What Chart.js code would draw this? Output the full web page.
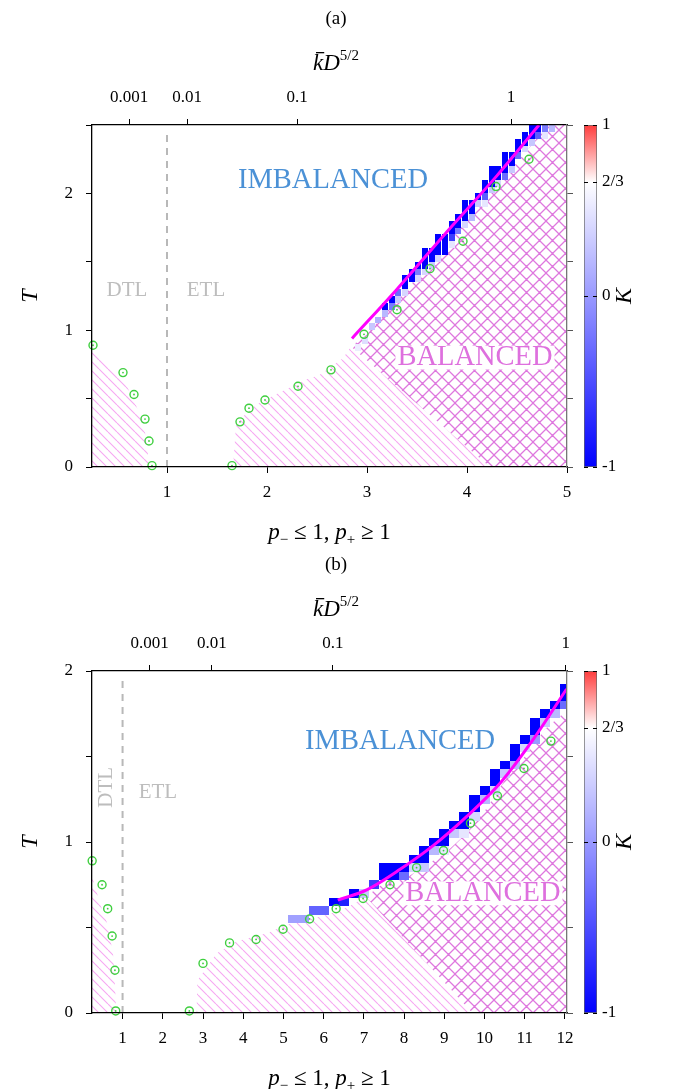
<!DOCTYPE html>
<html>
<head>
<meta charset="utf-8">
<script src="https://cdn.jsdelivr.net/npm/chart.js@4.4.1/dist/chart.umd.min.js"></script>
<style>
  body { margin: 0; background: #fff; }
  #wrap { position: relative; width: 673px; height: 1089px; }
  .box { position: absolute; }
</style>
</head>
<body>
<div id="wrap">
  <div class="box" style="left:0;top:0"><canvas id="mainA" width="673" height="545"></canvas></div>
  <div class="box" style="left:570px;top:0"><canvas id="barA" width="103" height="545"></canvas></div>
  <div class="box" style="left:0;top:545px"><canvas id="mainB" width="673" height="544"></canvas></div>
  <div class="box" style="left:570px;top:545px"><canvas id="barB" width="103" height="544"></canvas></div>
</div>
<script>
const SERIF = "'Liberation Serif','DejaVu Serif',serif";

// ---- tick data ----
const topLabels = ['0.001', '0.01', '0.1', '1'];
const aTopPos = [0.62, 1.2, 2.3, 4.44];
const bTopPos = [1.67, 3.22, 6.23, 12.02];
const aXTicks = [1, 2, 3, 4, 5];
const bXTicks = [1, 2, 3, 4, 5, 6, 7, 8, 9, 10, 11, 12];
const aYTicks = [0, 0.5, 1, 1.5, 2, 2.5];
const bYTicks = [0, 0.5, 1, 1.5, 2];

// colour bar
const cbTicks = [-1, 0, 2 / 3, 1];
const cbLabels = ['-1', '0', '2/3', '1'];
const cbStops = [-1, 2 / 3, 1];
const cbColors = [[0, 0, 255], [255, 255, 255], [255, 60, 60]];

// ---- panel (a) ----
const aPointP = [0.26, 0.56, 0.67, 0.78, 0.82, 0.85, 1.65, 1.73, 1.82, 1.98, 2.31, 2.64, 2.97, 3.3, 3.63, 3.96, 4.29, 4.62];
const aPointT = [0.89, 0.69, 0.53, 0.35, 0.19, 0.01, 0.01, 0.33, 0.43, 0.49, 0.59, 0.71, 0.97, 1.15, 1.45, 1.65, 2.05, 2.25];
const aCurveP = [2.85, 3.3, 3.8, 4.3, 4.72];
const aCurveT = [0.94, 1.3, 1.72, 2.13, 2.5];
const aDashP = [1, 1];
const aDashT = [0, 2.47];
const aHatchLP = [0.25, 0.25, 0.55, 0.66, 0.76, 0.8, 0.82];
const aHatchLT = [0, 0.85, 0.66, 0.5, 0.33, 0.17, 0];
const aHatchRP = [1.66, 1.69, 1.76, 1.89, 2.06, 2.39, 2.52, 2.76, 2.84, 4.23];
const aHatchRT = [0, 0.3, 0.37, 0.455, 0.52, 0.64, 0.67, 0.795, 0.88, 0];
const aCrossP = [2.84, 3.0, 3.3, 3.8, 4.3, 4.72, 4.82, 5, 5, 4.23];
const aCrossT = [0.88, 0.97, 1.22, 1.63, 2.05, 2.42, 2.5, 2.5, 0, 0];
const aCellP = [2.91, 2.98, 3.05, 3.11, 3.18, 3.18, 3.25, 3.25, 3.31, 3.31, 3.38, 3.38, 3.38, 3.45, 3.45, 3.51, 3.51, 3.51,
  3.58, 3.58, 3.58, 3.58, 3.65, 3.65, 3.65, 3.71, 3.71, 3.71, 3.71, 3.78, 3.78, 3.78, 3.85, 3.85, 3.85, 3.85, 3.91, 3.91, 3.91,
  3.98, 3.98, 3.98, 3.98, 4.05, 4.05, 4.05, 4.11, 4.11, 4.18, 4.18, 4.18, 4.18, 4.25, 4.25, 4.25, 4.25, 4.31, 4.31, 4.31,
  4.38, 4.38, 4.38, 4.38, 4.45, 4.45, 4.45, 4.51, 4.51, 4.51, 4.58, 4.58, 4.58, 4.65, 4.65, 4.65, 4.71, 4.71, 4.78, 4.85, 4.78];
const aCellT = [0.875, 0.925, 1.025, 1.075, 1.175, 1.125, 1.225, 1.175, 1.225, 1.275, 1.325, 1.275, 1.375, 1.375, 1.425, 1.375, 1.425, 1.475,
  1.475, 1.425, 1.525, 1.575, 1.525, 1.475, 1.575, 1.625, 1.575, 1.525, 1.675, 1.625, 1.575, 1.675, 1.725, 1.675, 1.625, 1.775, 1.775, 1.725, 1.825,
  1.825, 1.875, 1.775, 1.925, 1.875, 1.925, 1.825, 1.975, 1.925, 2.025, 1.975, 1.925, 2.075, 2.075, 2.125, 2.025, 2.175, 2.125, 2.075, 2.175,
  2.175, 2.125, 2.225, 2.275, 2.225, 2.275, 2.175, 2.325, 2.275, 2.375, 2.375, 2.325, 2.425, 2.425, 2.475, 2.375, 2.475, 2.425, 2.475, 2.475, 2.425];
const aCellK = [0.55, 0.45, 0.3, 0.15, -1, 0.2, -1, -0.2, 0.3, -0.3, -1, 0.4, -1, -1, -1, 0.4, -0.2, -1,
  -1, 0.4, -1, -1, -1, 0.3, -1, -1, -1, 0.4, -1, -1, -1, -1, -1, -0.6, 0.5, -1, -1, -0.2, -1,
  -1, -1, 0.4, -1, -1, -1, 0.2, -1, 0.3, -1, -0.4, 0.5, -1, -1, -1, 0.3, -1, -1, 0.4, -1,
  -1, -0.3, -1, -1, -1, -1, 0.3, -1, -0.3, -1, -1, 0.4, -1, -1, -1, 0.3, -1, -0.4, -0.2, 0.2, 0.5];

// ---- panel (b) ----
const bPointP = [0.244, 0.49, 0.63, 0.74, 0.81, 0.83, 2.66, 3.0, 3.66, 4.32, 4.99, 5.65, 6.31, 6.98, 7.65, 8.31, 8.98, 9.65, 10.32, 10.98, 11.65];
const bPointT = [0.89, 0.75, 0.61, 0.45, 0.25, 0.012, 0.012, 0.29, 0.41, 0.43, 0.49, 0.55, 0.61, 0.67, 0.75, 0.85, 0.95, 1.11, 1.27, 1.43, 1.59];
const bCurveP = [6.35, 7.07, 7.9, 8.73, 9.56, 10.39, 11.21, 12.04];
const bCurveT = [0.66, 0.72, 0.84, 0.98, 1.15, 1.345, 1.6, 1.895];
const bDashP = [1, 1];
const bDashT = [0, 1.97];
const bHatchLP = [0.24, 0.24, 0.44, 0.64, 0.77, 0.82, 0.84];
const bHatchLT = [0, 0.8, 0.64, 0.51, 0.33, 0.12, 0];
const bHatchRP = [2.84, 2.86, 3.34, 3.84, 4.58, 5.08, 6.1, 6.6, 7.05, 9.7];
const bHatchRT = [0, 0.19, 0.35, 0.42, 0.467, 0.516, 0.575, 0.62, 0.68, 0];
const bCrossP = [7.05, 7.5, 8.0, 8.5, 9.0, 9.5, 10.0, 10.5, 11.0, 11.5, 12.05, 12.05, 9.7];
const bCrossT = [0.68, 0.76, 0.78, 0.86, 0.93, 1.04, 1.18, 1.36, 1.5, 1.66, 1.77, 0, 0];
const bCellP = [5.25, 5.5, 5.75, 6.0, 6.25, 6.5, 6.75, 7.0, 7.25, 7.5, 7.5, 7.75, 7.75, 8.0, 8.0,
  8.25, 8.25, 8.5, 8.5, 8.5, 8.75, 8.75, 9.0, 9.0, 9.0, 9.25, 9.25, 9.5, 9.5, 9.5, 9.75, 9.75, 9.75,
  10.0, 10.0, 10.25, 10.25, 10.25, 10.5, 10.5, 10.75, 10.75, 10.75, 11.0, 11.0, 11.25, 11.25, 11.25,
  11.5, 11.5, 11.75, 11.75, 12.0, 12.0, 12.0];
const bCellT = [0.55, 0.55, 0.6, 0.6, 0.65, 0.65, 0.7, 0.7, 0.75, 0.8, 0.85, 0.8, 0.85, 0.85, 0.8,
  0.9, 0.85, 0.9, 0.95, 0.85, 1.0, 0.95, 1.0, 1.05, 0.95, 1.1, 1.05, 1.1, 1.15, 1.05, 1.2, 1.25, 1.15,
  1.3, 1.25, 1.35, 1.4, 1.3, 1.45, 1.4, 1.5, 1.55, 1.45, 1.6, 1.55, 1.65, 1.7, 1.6,
  1.75, 1.7, 1.8, 1.75, 1.85, 1.9, 1.8];
const bCellK = [0.05, 0.05, -0.35, -0.35, -1, -0.8, -1, 0.3, -0.6, -1, -1, -1, -1, -1, -0.3,
  -1, 0.4, -1, -1, 0.3, -1, 0.2, -1, -1, 0.5, -1, 0.3, -1, -1, 0.5, -1, -1, 0.4,
  -1, 0.2, -1, -1, 0.4, -1, 0.3, -1, -1, 0.2, -1, 0.4, -1, -1, 0.0,
  -1, 0.3, -1, 0.2, -1, -1, -0.3];

// ---- helpers ----
const xy = (ps, ts) => ps.map((p, i) => ({ x: p, y: ts[i] }));

function kColor(k) {
  for (let i = 1; i < cbStops.length; i++) {
    if (k <= cbStops[i] || i === cbStops.length - 1) {
      const f = Math.max(0, Math.min(1, (k - cbStops[i - 1]) / (cbStops[i] - cbStops[i - 1])));
      const c = cbColors[i - 1].map((v, j) => Math.round(v + f * (cbColors[i][j] - v)));
      return 'rgb(' + c.join(',') + ')';
    }
  }
}

function makeTile(size, color, width, cross) {
  const c = document.createElement('canvas');
  c.width = c.height = size;
  const g = c.getContext('2d');
  g.fillStyle = '#fff';
  g.fillRect(0, 0, size, size);
  g.strokeStyle = color;
  g.lineWidth = width;
  g.beginPath();
  for (const o of [-size, 0, size]) {
    g.moveTo(o, 0); g.lineTo(o + size, size);
    if (cross) { g.moveTo(o, size); g.lineTo(o + size, 0); }
  }
  g.stroke();
  if (cross) {
    g.fillStyle = color;
    g.fillRect(size / 2 - 1, size / 2 - 1, 2, 2);
    for (const [px, py] of [[0, 0], [size, 0], [0, size], [size, size]]) g.fillRect(px - 1, py - 1, 2, 2);
  }
  return c;
}
const lineTile = makeTile(9, '#f6a8f2', 1.1, false);
const crossTile = makeTile(13, '#de78de', 1.25, true);

// hatch regions and K cells, drawn under the datasets
const regionPlugin = {
  id: 'regions',
  beforeDatasetsDraw(chart, args, o) {
    const { ctx, chartArea: a, scales: { x, y } } = chart;
    ctx.save();
    ctx.beginPath();
    ctx.rect(a.left, a.top, a.width, a.height);
    ctx.clip();
    o.hatches.forEach(h => {
      ctx.beginPath();
      h.p.forEach((p, i) => {
        const X = x.getPixelForValue(p), Y = y.getPixelForValue(h.t[i]);
        if (i) ctx.lineTo(X, Y); else ctx.moveTo(X, Y);
      });
      ctx.closePath();
      ctx.fillStyle = ctx.createPattern(h.cross ? crossTile : lineTile, 'repeat');
      ctx.fill();
    });
    const c = o.cells;
    c.p.forEach((p, i) => {
      const x0 = Math.round(x.getPixelForValue(p - c.w / 2)), x1 = Math.round(x.getPixelForValue(p + c.w / 2));
      const y0 = Math.round(y.getPixelForValue(c.t[i] + c.h / 2)), y1 = Math.round(y.getPixelForValue(c.t[i] - c.h / 2));
      ctx.fillStyle = kColor(c.k[i]);
      ctx.fillRect(x0, y0, x1 - x0, y1 - y0);
    });
    ctx.restore();
  }
};

// titles, axis labels with sub/superscripts, region names
const textPlugin = {
  id: 'texts',
  afterDraw(chart, args, o) {
    const { ctx, chartArea: a, scales: { x, y } } = chart;
    const cx = (a.left + a.right) / 2;
    ctx.save();
    ctx.fillStyle = '#000';
    ctx.textBaseline = 'alphabetic';

    ctx.font = '19px ' + SERIF;
    ctx.textAlign = 'center';
    ctx.fillText(o.tag, 336, a.top - 101);

    // k-bar D^{5/2}
    const runs = [
      { t: 'k', f: 'italic 23px ' + SERIF, dy: 0, bar: true },
      { t: 'D', f: 'italic 23px ' + SERIF, dy: 0 },
      { t: '5/2', f: '15px ' + SERIF, dy: -10 }
    ];
    drawRuns(ctx, runs, 336, a.top - 55);

    // x title
    const xruns = [
      { t: 'p', f: 'italic 23px ' + SERIF, dy: 0 },
      { t: '\u2212', f: '15px ' + SERIF, dy: 5 },
      { t: ' \u2264 1, ', f: '23px ' + SERIF, dy: 0 },
      { t: 'p', f: 'italic 23px ' + SERIF, dy: 0 },
      { t: '+', f: '15px ' + SERIF, dy: 5 },
      { t: ' \u2265 1', f: '23px ' + SERIF, dy: 0 }
    ];
    drawRuns(ctx, xruns, cx, a.bottom + 72);

    // y title
    ctx.save();
    ctx.translate(31, (a.top + a.bottom) / 2);
    ctx.rotate(-Math.PI / 2);
    ctx.font = 'italic 24px ' + SERIF;
    ctx.textAlign = 'center';
    ctx.textBaseline = 'middle';
    ctx.fillText('T', 0, 0);
    ctx.restore();

    o.notes.forEach(n => {
      const X = x.getPixelForValue(n.p), Y = y.getPixelForValue(n.t);
      ctx.save();
      ctx.translate(X, Y);
      if (n.rot) ctx.rotate(n.rot);
      ctx.font = n.size + 'px ' + SERIF;
      ctx.textAlign = 'center';
      ctx.textBaseline = 'middle';
      if (n.bg) {
        const w = ctx.measureText(n.text).width;
        ctx.fillStyle = '#fff';
        ctx.fillRect(-w / 2 - 2, -n.size * 0.42, w + 4, n.size * 0.84);
      }
      ctx.fillStyle = n.color;
      ctx.fillText(n.text, 0, 0);
      ctx.restore();
    });
    ctx.restore();
  }
};

function drawRuns(ctx, runs, cx, base) {
  let w = 0;
  runs.forEach(r => { ctx.font = r.f; r.w = ctx.measureText(r.t).width; w += r.w; });
  let X = cx - w / 2;
  ctx.textAlign = 'left';
  runs.forEach(r => {
    ctx.font = r.f;
    ctx.fillText(r.t, X, base + r.dy);
    if (r.bar) {
      ctx.fillRect(X + 3, base - 18, r.w - 2, 1.3);
    }
    X += r.w;
  });
}

function axisTicks(vals) {
  return s => { s.ticks = vals.map(v => ({ value: v })); };
}

function makePanel(id, cfg) {
  const tickFont = { family: SERIF, size: 17 };
  const gridCfg = { drawOnChartArea: false, tickLength: 6, color: '#000', lineWidth: 1 };
  const circle = {
    data: xy(cfg.pointP, cfg.pointT), pointStyle: 'circle', pointRadius: 4,
    borderColor: '#3fcf3f', borderWidth: 1.4, backgroundColor: 'rgba(0,0,0,0)', clip: false
  };
  const dot = {
    data: xy(cfg.pointP, cfg.pointT), pointRadius: 0.9, borderWidth: 0,
    backgroundColor: '#3fcf3f', clip: false
  };
  return new Chart(document.getElementById(id), {
    type: 'scatter',
    data: {
      datasets: [
        circle, dot,
        {
          data: xy(cfg.curveP, cfg.curveT), showLine: true, pointRadius: 0,
          borderColor: '#ff00ff', borderWidth: 3, cubicInterpolationMode: 'monotone'
        },
        {
          data: xy(cfg.dashP, cfg.dashT), showLine: true, pointRadius: 0,
          borderColor: '#b8b8b8', borderWidth: 2, borderDash: [7, 6]
        }
      ]
    },
    options: {
      responsive: false,
      animation: false,
      events: [],
      layout: { padding: 0 },
      plugins: {
        legend: { display: false },
        tooltip: { enabled: false },
        regions: { hatches: cfg.hatches, cells: cfg.cells },
        texts: { tag: cfg.tag, notes: cfg.notes }
      },
      scales: {
        x: {
          type: 'linear', position: 'bottom', min: cfg.xMin, max: cfg.xMax,
          afterBuildTicks: axisTicks(cfg.xTicks),
          afterFit: s => { s.height = cfg.bottomH; },
          ticks: { color: '#000', font: tickFont, padding: 9, maxRotation: 0, autoSkip: false, callback: v => String(v) },
          grid: gridCfg,
          border: { color: '#000', width: 1.3, z: 1 }
        },
        x2: {
          type: 'linear', position: 'top', min: cfg.xMin, max: cfg.xMax,
          afterBuildTicks: axisTicks(cfg.topPos),
          afterFit: s => { s.height = cfg.topH; },
          ticks: { color: '#000', font: tickFont, padding: 11, maxRotation: 0, autoSkip: false, callback: (v, i) => topLabels[i] },
          grid: gridCfg,
          border: { color: '#000', width: 1.3, z: 1 }
        },
        y: {
          type: 'linear', position: 'left', min: 0, max: cfg.yMax,
          afterBuildTicks: axisTicks(cfg.yTicks),
          afterFit: s => { s.width = 92; },
          ticks: { color: '#000', font: tickFont, padding: 13, autoSkip: false, callback: v => Number.isInteger(v) ? String(v) : '' },
          grid: gridCfg,
          border: { color: '#000', width: 1.3, z: 1 }
        },
        y2: {
          type: 'linear', position: 'right', min: 0, max: cfg.yMax,
          afterBuildTicks: axisTicks(cfg.yTicks),
          afterFit: s => { s.width = 106; },
          ticks: { display: true, autoSkip: false, callback: () => '' },
          grid: { drawOnChartArea: false, tickLength: 6, color: '#555', lineWidth: 1 },
          border: { color: '#777', width: 1.3, z: 1 }
        }
      }
    },
    plugins: [regionPlugin, textPlugin]
  });
}

const kLabelPlugin = {
  id: 'kLabel',
  afterDraw(chart) {
    const { ctx, chartArea: a } = chart;
    ctx.save();
    ctx.translate(a.right + 28, (a.top + a.bottom) / 2);
    ctx.rotate(-Math.PI / 2);
    ctx.font = 'italic 24px ' + SERIF;
    ctx.fillStyle = '#000';
    ctx.textAlign = 'center';
    ctx.textBaseline = 'middle';
    ctx.fillText('K', 0, 0);
    ctx.restore();
  }
};

function makeBar(id, top, bottom) {
  return new Chart(document.getElementById(id), {
    type: 'bar',
    data: {
      labels: [''],
      datasets: [{
        data: [[-1, 1]],
        barPercentage: 1, categoryPercentage: 1,
        borderColor: '#666', borderWidth: 1, borderSkipped: false,
        backgroundColor: ctx => {
          const ca = ctx.chart.chartArea;
          if (!ca) return '#fff';
          const g = ctx.chart.ctx.createLinearGradient(0, ca.bottom, 0, ca.top);
          cbStops.forEach((s, i) => g.addColorStop((s + 1) / 2, 'rgb(' + cbColors[i].join(',') + ')'));
          return g;
        }
      }]
    },
    options: {
      responsive: false,
      animation: false,
      events: [],
      layout: { padding: { left: 14, right: 0, top: top, bottom: bottom } },
      plugins: { legend: { display: false }, tooltip: { enabled: false } },
      scales: {
        x: { display: false },
        y: {
          position: 'right', min: -1, max: 1, z: 1,
          afterBuildTicks: axisTicks(cbTicks),
          afterFit: s => { s.width = 76; },
          ticks: { color: '#000', font: { family: SERIF, size: 17 }, padding: 5, autoSkip: false, callback: (v, i) => cbLabels[i] },
          grid: { drawOnChartArea: true, drawTicks: false, color: '#000', lineWidth: 1, z: 1 },
          border: { display: false, dash: [4, 5] }
        }
      }
    },
    plugins: [kLabelPlugin]
  });
}

makePanel('mainA', {
  tag: '(a)', xMin: 0.25, xMax: 5, yMax: 2.5, topH: 125, bottomH: 78,
  xTicks: aXTicks, yTicks: aYTicks, topPos: aTopPos,
  pointP: aPointP, pointT: aPointT, curveP: aCurveP, curveT: aCurveT, dashP: aDashP, dashT: aDashT,
  hatches: [
    { p: aHatchLP, t: aHatchLT }, { p: aHatchRP, t: aHatchRT }, { p: aCrossP, t: aCrossT, cross: true }
  ],
  cells: { p: aCellP, t: aCellT, k: aCellK, w: 1 / 15, h: 0.05 },
  notes: [
    { text: 'IMBALANCED', p: 2.66, t: 2.095, color: '#4b91d6', size: 28.5 },
    { text: 'BALANCED', p: 4.08, t: 0.80, color: '#de70de', size: 28.5, bg: true },
    { text: 'DTL', p: 0.6, t: 1.29, color: '#bdbdbd', size: 21 },
    { text: 'ETL', p: 1.39, t: 1.29, color: '#bdbdbd', size: 21 }
  ]
});
makeBar('barA', 125, 78);

makePanel('mainB', {
  tag: '(b)', xMin: 0.24, xMax: 12.05, yMax: 2, topH: 126, bottomH: 76,
  xTicks: bXTicks, yTicks: bYTicks, topPos: bTopPos,
  pointP: bPointP, pointT: bPointT, curveP: bCurveP, curveT: bCurveT, dashP: bDashP, dashT: bDashT,
  hatches: [
    { p: bHatchLP, t: bHatchLT }, { p: bHatchRP, t: bHatchRT }, { p: bCrossP, t: bCrossT, cross: true }
  ],
  cells: { p: bCellP, t: bCellT, k: bCellK, w: 0.25, h: 0.05 },
  notes: [
    { text: 'IMBALANCED', p: 7.9, t: 1.59, color: '#4b91d6', size: 28.5 },
    { text: 'BALANCED', p: 9.96, t: 0.70, color: '#de70de', size: 28.5, bg: true },
    { text: 'DTL', p: 0.61, t: 1.32, color: '#bdbdbd', size: 21, rot: -Math.PI / 2 },
    { text: 'ETL', p: 1.88, t: 1.29, color: '#bdbdbd', size: 21 }
  ]
});
makeBar('barB', 126, 76);
</script>
</body>
</html>
